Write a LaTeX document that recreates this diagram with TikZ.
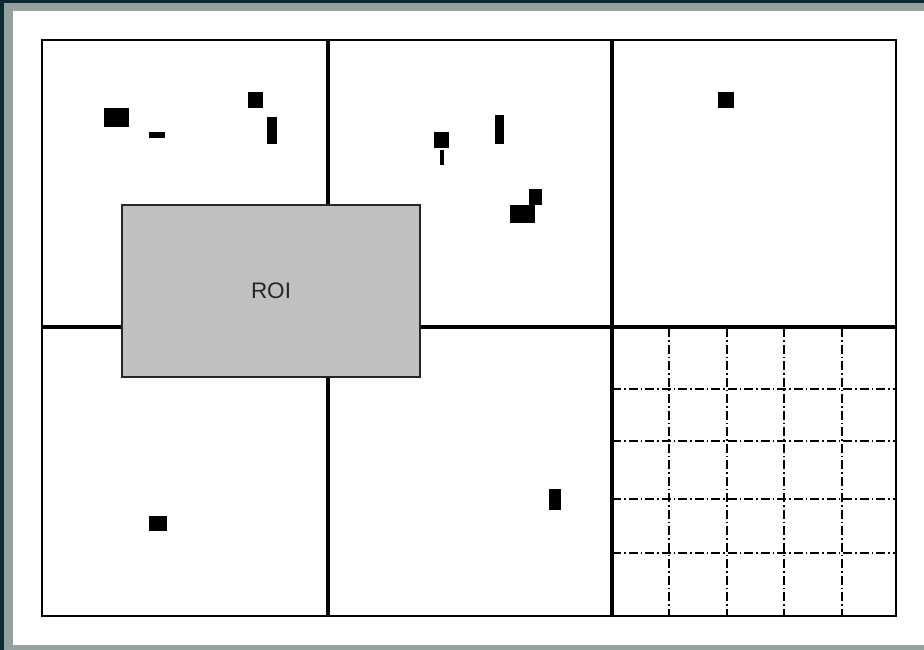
\documentclass[tikz,border=0pt]{standalone}
\usepackage{fontspec}
\setmainfont{Liberation Sans}
\definecolor{frameDark}{HTML}{0B2A33}
\definecolor{frameGray}{HTML}{94A19E}
\definecolor{roiGray}{HTML}{C0C0C0}
\begin{document}
\begin{tikzpicture}[x=1pt,y=-1pt,
  blob/.style={fill=black,draw=none},
  divider/.style={line width=3.2pt,black},
  gridline/.style={line width=1.1pt,black,dash pattern=on 9pt off 3pt on 1.5pt off 3pt},
  roibox/.style={fill=roiGray,draw=black!85,line width=1.2pt}]
\useasboundingbox (0,0) rectangle (924,650);
% frame
\fill[frameDark] (0,0) rectangle (924,650);
\fill[frameGray] (4,3) rectangle (924,650);
\fill[white] (13,11) rectangle (924,645);
% grid in lower-right cell
\foreach \gx in {669,727,784,842} \draw[gridline] (\gx,328) -- (\gx,616);
\foreach \gy in {389,441,499,553} \draw[gridline] (612,\gy) -- (896,\gy);
% dividers
\draw[divider] (328,40) -- (328,616);
\draw[divider] (612,40) -- (612,616);
\draw[divider] (42,327) -- (896,327);
% outer rectangle
\draw[line width=2pt] (42,40) rectangle (896,616);
% ROI
\draw[roibox] (122,205) rectangle (420,377);
\node[text=black!85] (roi) at (271,290.5) {\fontsize{22.5}{26}\selectfont ROI};
% blobs
\fill[blob] (104,108) rectangle (129,127);
\fill[blob] (149,132) rectangle (165,138);
\fill[blob] (248,92) rectangle (263,108);
\fill[blob] (267,117) rectangle (277,144);
\fill[blob] (434,132) rectangle (449,148);
\fill[blob] (440,150) rectangle (444,165);
\fill[blob] (495,115) rectangle (504,144);
\fill[blob] (529,189) rectangle (542,205);
\fill[blob] (510,205) rectangle (535,223);
\fill[blob] (718,92) rectangle (734,108);
\fill[blob] (149,516) rectangle (167,531);
\fill[blob] (549,489) rectangle (561,510);
\end{tikzpicture}
\end{document}
